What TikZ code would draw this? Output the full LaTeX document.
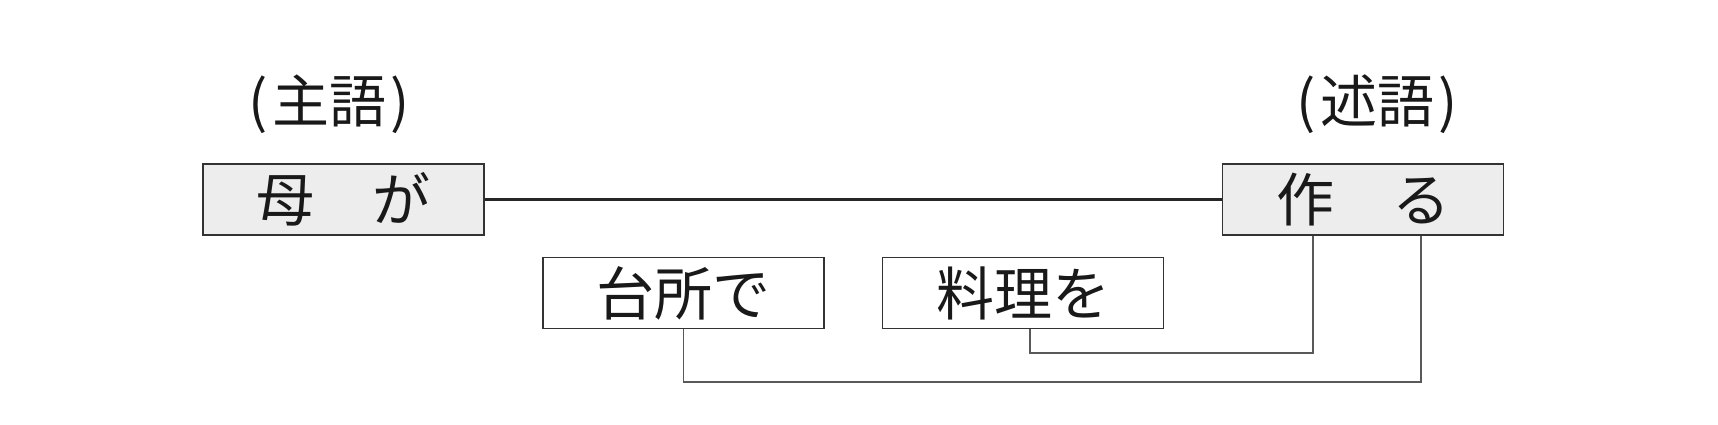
\documentclass[tikz,border=0pt]{standalone}
\usepackage{fontspec}
\newfontfamily\jp{Noto Sans CJK JP}
\begin{document}
\begin{tikzpicture}[x=1pt,y=-1pt,
  word/.style={draw=black!80, line width=1.6pt, minimum width=281pt, minimum height=71pt,
    inner sep=0pt, font=\jp\fontsize{58}{60}\selectfont, text=black!90},
  main/.style={word, fill=black!7},
  sub/.style={word, fill=white},
  role/.style={font=\jp\fontsize{57}{60}\selectfont, inner sep=0pt, text=black!90},
  link/.style={draw=black!65, line width=1.4pt},
  mainlink/.style={draw=black!85, line width=2.8pt}]
\useasboundingbox (0,0) rectangle (1718,424);
\fill[white] (0,0) rectangle (1718,424);
\node[main] (haha) at (343.5,199.5) {母\hspace{1em}が};
\node[main] (tsukuru) at (1363,199.5) {作\hspace{1em}る};
\node[sub] (dai) at (683.5,293) {台所で};
\node[sub] (ryo) at (1023,293) {料理を};
\node[role] (shugo) at (329,104) {(\kern0.08em主語\kern0.08em)};
\node[role] (jutsugo) at (1377,104) {(\kern0.08em述語\kern0.08em)};
\coordinate (r1) at (1030,0);
\coordinate (k1) at (1313,353);
\coordinate (k2) at (1421,382);
\draw[mainlink] (haha.east) -- (tsukuru.west);
\draw[link] (ryo.south -| r1) |- (k1) -- (k1 |- tsukuru.south);
\draw[link] (dai.south) |- (k2) -- (k2 |- tsukuru.south);
\end{tikzpicture}
\end{document}
